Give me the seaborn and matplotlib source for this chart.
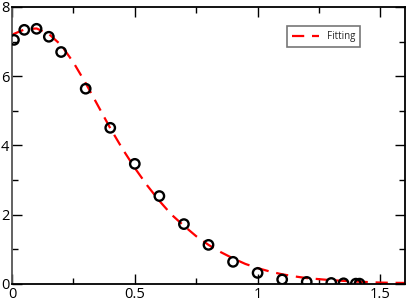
import numpy as np
import pandas as pd
import matplotlib
matplotlib.use('Agg')
import matplotlib.pyplot as plt
import seaborn as sns
from matplotlib.ticker import MultipleLocator, FuncFormatter

# measured points (open circles)
x_data = [0.008, 0.05, 0.10, 0.15, 0.20, 0.30, 0.40, 0.50, 0.60, 0.70,
          0.80, 0.90, 1.00, 1.10, 1.20, 1.30, 1.35, 1.40, 1.415]
y_data = [7.05, 7.34, 7.37, 7.14, 6.70, 5.64, 4.51, 3.47, 2.54, 1.73,
          1.13, 0.64, 0.32, 0.13, 0.06, 0.03, 0.02, 0.01, 0.01]

# fitted curve
x_fit = [0.00, 0.05, 0.10, 0.15, 0.20, 0.25, 0.30, 0.35, 0.40, 0.45,
         0.50, 0.55, 0.60, 0.65, 0.70, 0.75, 0.80, 0.85, 0.90, 0.95,
         1.00, 1.05, 1.10, 1.15, 1.20, 1.30, 1.40, 1.50, 1.60]
y_fit = [7.20, 7.35, 7.38, 7.22, 6.90, 6.40, 5.80, 5.15, 4.50, 3.90,
         3.35, 2.85, 2.40, 2.00, 1.68, 1.38, 1.13, 0.92, 0.74, 0.58,
         0.46, 0.36, 0.28, 0.22, 0.17, 0.11, 0.07, 0.04, 0.03]

sns.set_style('ticks')
plt.rcParams['font.family'] = ['Open Sans', 'DejaVu Sans']

fig = plt.figure(figsize=(4.07, 3.04), dpi=100)
ax = fig.add_axes([0.0295, 0.0658, 0.9655, 0.9112])

fit_df = pd.DataFrame({'x': x_fit, 'y': y_fit})
pts_df = pd.DataFrame({'x': x_data, 'y': y_data})

sns.lineplot(data=fit_df, x='x', y='y', ax=ax, color='red', linewidth=1.6,
             linestyle=(0, (5.5, 3.5)), label='Fitting')
sns.scatterplot(data=pts_df, x='x', y='y', ax=ax, marker='o', s=46,
                facecolors='none', edgecolor='black', linewidth=1.7,
                legend=False, zorder=3)

ax.set_xlim(0, 1.6)
ax.set_ylim(0, 8)
ax.set_xlabel('')
ax.set_ylabel('')

ax.xaxis.set_major_locator(MultipleLocator(0.5))
ax.xaxis.set_minor_locator(MultipleLocator(0.25))
ax.yaxis.set_major_locator(MultipleLocator(2))
ax.yaxis.set_minor_locator(MultipleLocator(1))
ax.xaxis.set_major_formatter(FuncFormatter(lambda v, p: f'{v:g}'))
ax.yaxis.set_major_formatter(FuncFormatter(lambda v, p: f'{v:g}'))

ax.tick_params(which='both', direction='in', top=True, right=True,
               width=1.0, colors='black', labelsize=10.5, pad=2)
ax.tick_params(which='major', length=7)
ax.tick_params(which='minor', length=4)

for side in ['top', 'bottom', 'right']:
    ax.spines[side].set_linewidth(1.3)
    ax.spines[side].set_color('black')
ax.spines['left'].set_linewidth(1.3)
ax.spines['left'].set_color('#555555')

leg = ax.legend(loc='upper left', bbox_to_anchor=(0.70, 0.93), fontsize=7,
                frameon=True, fancybox=False, handlelength=2.8,
                borderpad=0.5, borderaxespad=0)
leg.get_frame().set_edgecolor('#555555')
leg.get_frame().set_linewidth(1.2)

fig.savefig('out.png', dpi=100)
